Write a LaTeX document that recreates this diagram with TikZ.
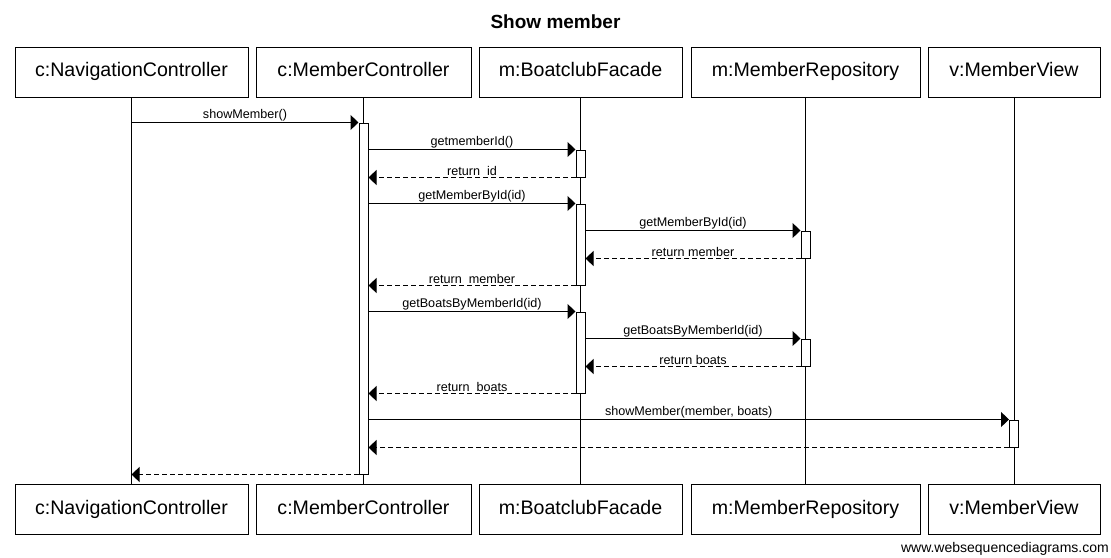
\documentclass[tikz,border=0pt]{standalone}
\usepackage{fontspec}
\setmainfont{Liberation Sans}
\usetikzlibrary{arrows.meta}
\begin{document}
\begin{tikzpicture}[x=1pt,y=-1pt,
  obj/.style={draw,line width=1pt,minimum height=50pt,inner sep=0pt,
              text height=14pt,text depth=4.5pt,
              font=\fontsize{19.6}{22}\selectfont},
  act/.style={draw,fill=white,line width=1pt,minimum width=9pt,inner sep=0pt},
  life/.style={line width=1pt},
  call/.style={line width=1pt,-{Triangle[length=8pt,width=15pt]}},
  ret/.style={call,dash pattern=on 5pt off 3pt},
  lbl/.style={font=\fontsize{12.6}{14}\selectfont,inner sep=1pt,above}]
\useasboundingbox (0,0) rectangle (1111,557);

% title
\node[font=\bfseries\fontsize{19}{22}\selectfont] (title) at (555.5,22) {Show member};

% participants, top row
\node[obj,minimum width=233pt] (nc) at (131.5,72) {c:NavigationController};
\node[obj,minimum width=215pt] (mc) at (363.5,72) {c:MemberController};
\node[obj,minimum width=203pt] (bf) at (580.5,72) {m:BoatclubFacade};
\node[obj,minimum width=229pt] (mr) at (805.5,72) {m:MemberRepository};
\node[obj,minimum width=172pt] (mv) at (1014,72) {v:MemberView};

% participants, bottom row
\node[obj,minimum width=233pt] (ncb) at (131.5,509.5) {c:NavigationController};
\node[obj,minimum width=215pt] (mcb) at (363.5,509.5) {c:MemberController};
\node[obj,minimum width=203pt] (bfb) at (580.5,509.5) {m:BoatclubFacade};
\node[obj,minimum width=229pt] (mrb) at (805.5,509.5) {m:MemberRepository};
\node[obj,minimum width=172pt] (mvb) at (1014,509.5) {v:MemberView};

% lifelines
\draw[life] (nc.south) -- (ncb.north);
\draw[life] (mc.south) -- (mcb.north);
\draw[life] (bf.south) -- (bfb.north);
\draw[life] (mr.south) -- (mrb.north);
\draw[life] (mv.south) -- (mvb.north);

% activation bars
\node[act,minimum height=351pt] (a1) at (363.5,298.5) {};
\node[act,minimum height=27pt]  (b1) at (580.5,163.5) {};
\node[act,minimum height=81pt]  (b2) at (580.5,244.5) {};
\node[act,minimum height=27pt]  (r1) at (805.5,244.5) {};
\node[act,minimum height=81pt]  (b3) at (580.5,352.5) {};
\node[act,minimum height=27pt]  (r2) at (805.5,352.5) {};
\node[act,minimum height=27pt]  (v1) at (1014,433.5) {};

% messages
\draw[call] (nc.south |- a1.north) -- node[lbl]{showMember()} (a1.north west);
\draw[call] (a1.east |- b1.north) -- node[lbl]{getmemberId()} (b1.north west);
\draw[ret] (b1.south west) -- node[lbl]{return\ \ id} (a1.east |- b1.south);
\draw[call] (a1.east |- b2.north) -- node[lbl]{getMemberById(id)} (b2.north west);
\draw[call] (b2.east |- r1.north) -- node[lbl]{getMemberById(id)} (r1.north west);
\draw[ret] (r1.south west) -- node[lbl]{return member} (b2.east |- r1.south);
\draw[ret] (b2.south west) -- node[lbl]{return\ \ member} (a1.east |- b2.south);
\draw[call] (a1.east |- b3.north) -- node[lbl]{getBoatsByMemberId(id)} (b3.north west);
\draw[call] (b3.east |- r2.north) -- node[lbl]{getBoatsByMemberId(id)} (r2.north west);
\draw[ret] (r2.south west) -- node[lbl]{return boats} (b3.east |- r2.south);
\draw[ret] (b3.south west) -- node[lbl]{return\ \ boats} (a1.east |- b3.south);
\draw[call] (a1.east |- v1.north) -- node[lbl]{showMember(member, boats)} (v1.north west);
\draw[ret] (v1.south west) -- (a1.east |- v1.south);
\draw[ret] (a1.south west) -- (nc.south |- a1.south);

% footer
\node[anchor=east,inner sep=0pt,font=\fontsize{14}{16}\selectfont] (wm) at (1109,549)
  {www.websequencediagrams.com};
\end{tikzpicture}
\end{document}
